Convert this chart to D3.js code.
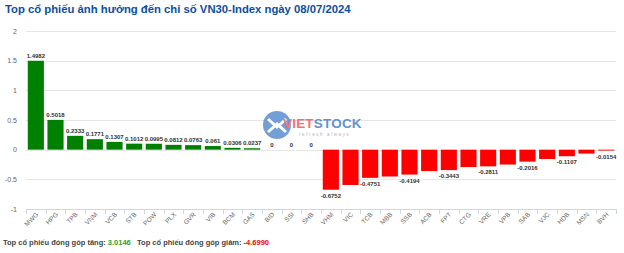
<!DOCTYPE html>
<html>
<head>
<meta charset="utf-8">
<script src="https://cdn.jsdelivr.net/npm/d3@7"></script>
<style>
  body { margin: 0; background: #fff; font-family: "Liberation Sans", Arial, sans-serif; }
  svg { display: block; }
</style>
</head>
<body>
<svg id="chart" width="624" height="253"></svg>
<script>
// ---- Data ----
const tickers = ["MWG","HPG","TPB","VNM","VCB","STB","POW","PLX","GVR","VIB","BCM","GAS","BID","SSI","SHB",
                 "VHM","VIC","TCB","MBB","SSB","ACB","FPT","CTG","VRE","VPB","SAB","VJC","HDB","MSN","BVH"];
const impact = [1.4982,0.5018,0.2333,0.1771,0.1307,0.1012,0.0995,0.0812,0.0763,0.061,0.0306,0.0237,0,0,0,
                -0.6752,-0.5953,-0.4751,-0.4521,-0.4194,-0.3612,-0.3443,-0.2935,-0.2811,-0.2506,-0.2016,-0.1576,-0.1107,-0.0659,-0.0154];
const yTicks = [2, 1.5, 1, 0.5, 0, -0.5, -1];
const totalUp = "3.0146";
const totalDown = "-4.6990";

// ---- Layout ----
const plot = { left: 26, right: 616, top: 31, bottom: 209 };
const svg = d3.select("#chart");

const x = d3.scaleBand().domain(tickers).range([plot.left, plot.right]).paddingInner(0.18).paddingOuter(0.09);
const y = d3.scaleLinear().domain([-1, 2]).range([plot.bottom, plot.top]);

const rows = tickers.map((name, i) => ({ name, value: impact[i], i }));

// ---- Title ----
svg.append("text")
  .attr("x", 5).attr("y", 13)
  .attr("font-size", 11.3).attr("font-weight", "bold")
  .attr("fill", "#0b4f9e")
  .text("Top cổ phiếu ảnh hưởng đến chỉ số VN30-Index ngày 08/07/2024");

// ---- Grid + y labels ----
svg.append("g").selectAll("line").data(yTicks.filter(d => d !== -1)).join("line")
  .attr("x1", plot.left).attr("x2", plot.right)
  .attr("y1", d => Math.round(y(d)) + 0.5).attr("y2", d => Math.round(y(d)) + 0.5)
  .attr("stroke", "#e6e6e6");

svg.append("g").selectAll("text").data(yTicks).join("text")
  .attr("x", 17).attr("y", d => y(d) + 2.5)
  .attr("text-anchor", "end")
  .attr("font-size", 7).attr("fill", "#666")
  .text(d => d);

// ---- Watermark (VietStock) ----
const wm = svg.append("g").attr("opacity", 0.85);
wm.append("circle").attr("cx", 277).attr("cy", 125).attr("r", 14).attr("fill", "#5b8fd0");
wm.append("path").attr("d", "M268,119 L277,127 L286,119 M268,132 L277,124 L286,132")
  .attr("stroke", "#fff").attr("stroke-width", 3).attr("fill", "none");
wm.append("text").attr("x", 283).attr("y", 128).attr("font-size", 13.5).attr("font-weight", "bold")
  .attr("letter-spacing", 0.2)
  .call(t => {
    t.append("tspan").attr("fill", "#f05a5a").text("VIET");
    t.append("tspan").attr("fill", "#4a7fc8").text("STOCK");
  });
wm.append("text").attr("x", 299).attr("y", 136).attr("font-size", 4.5).attr("fill", "#aab")
  .attr("letter-spacing", 1.6).text("refresh always");

// ---- Bars ----
svg.append("g").selectAll("rect").data(rows).join("rect")
  .attr("x", d => x(d.name))
  .attr("width", x.bandwidth())
  .attr("y", d => y(Math.max(0, d.value)))
  .attr("height", d => Math.abs(y(d.value) - y(0)))
  .attr("fill", d => d.value >= 0 ? "#008000" : "#ff0000");

// ---- Value labels (negatives alternate, like the original) ----
svg.append("g").selectAll("text")
  .data(rows.filter(d => d.value >= 0 || (d.i - 15) % 2 === 0)).join("text")
  .attr("x", d => x(d.name) + x.bandwidth() / 2)
  .attr("y", d => d.value >= 0 ? y(d.value) - 3 : y(d.value) + 8)
  .attr("text-anchor", "middle")
  .attr("font-size", 6).attr("font-weight", "bold").attr("fill", "#333")
  .attr("stroke", "#fff").attr("stroke-width", 1.5).attr("paint-order", "stroke")
  .text(d => d.value);

// ---- X axis ----
const ax = svg.append("g");
ax.append("line").attr("x1", plot.left).attr("x2", plot.right)
  .attr("y1", plot.bottom + 0.5).attr("y2", plot.bottom + 0.5).attr("stroke", "#ccd6eb");
ax.selectAll("line.tick").data(d3.range(tickers.length + 1)).join("line")
  .attr("class", "tick")
  .attr("x1", i => Math.round(plot.left + i * (plot.right - plot.left) / tickers.length) + 0.5)
  .attr("x2", i => Math.round(plot.left + i * (plot.right - plot.left) / tickers.length) + 0.5)
  .attr("y1", plot.bottom).attr("y2", plot.bottom + 5)
  .attr("stroke", "#ccd6eb");
ax.selectAll("text").data(tickers).join("text")
  .attr("transform", d => `translate(${x(d) + x.bandwidth() / 2 + 3},${plot.bottom + 6}) rotate(-45)`)
  .attr("text-anchor", "end")
  .attr("font-size", 6.5).attr("fill", "#666")
  .text(d => d);

// ---- Footer ----
const ft = svg.append("text").attr("x", 3).attr("y", 245)
  .attr("font-size", 7.5).attr("font-weight", "bold").attr("fill", "#444")
  .attr("xml:space", "preserve");
ft.append("tspan").text("Top cổ phiếu đóng góp tăng: ");
ft.append("tspan").attr("fill", "#2e9e2e").text(totalUp);
ft.append("tspan").text("   Top cổ phiếu đóng góp giảm: ");
ft.append("tspan").attr("fill", "#ff0000").text(totalDown);
</script>
</body>
</html>
